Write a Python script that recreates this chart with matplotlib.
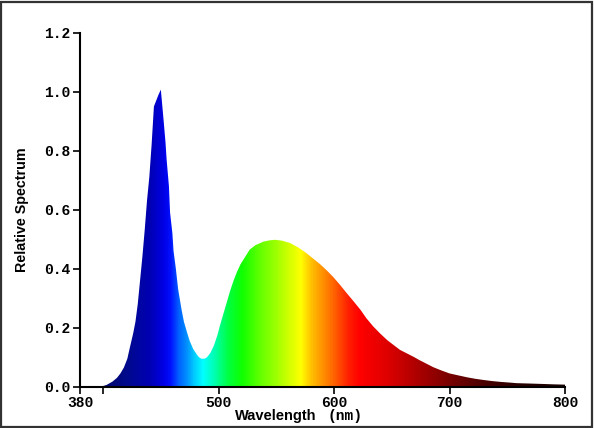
import numpy as np
import matplotlib
matplotlib.use("Agg")
import matplotlib.pyplot as plt
from matplotlib.colors import LinearSegmentedColormap, to_rgb
from matplotlib.patches import Rectangle

# spectrum (nm, relative value)
wavelength = [380, 398, 403, 408, 412, 415, 418, 421, 423, 426, 428, 430, 432, 434, 436,
              438, 440, 442, 444, 446, 448, 450, 452, 454, 455, 457, 458, 460, 461, 463,
              465, 468, 470, 473, 475, 478, 481, 483, 485, 488, 490, 493, 496, 499, 501,
              504, 507, 510, 513, 516, 519, 523, 527, 532, 539, 544, 549, 555, 562, 569,
              576, 582, 588, 594, 599, 605, 611, 617, 623, 628, 634, 640, 646, 652, 657,
              663, 669, 674, 680, 686, 693, 700, 708, 715, 722, 729, 737, 745, 752, 758,
              767, 775, 783, 790, 800]
spectrum = [0.0, 0.0, 0.006, 0.017, 0.030, 0.045, 0.065, 0.095, 0.13, 0.18, 0.22, 0.28,
            0.36, 0.44, 0.53, 0.63, 0.71, 0.82, 0.95, 0.97, 0.99, 1.007, 0.92, 0.83, 0.77,
            0.68, 0.59, 0.52, 0.46, 0.40, 0.33, 0.26, 0.22, 0.18, 0.155, 0.128, 0.11, 0.10,
            0.095, 0.095, 0.10, 0.115, 0.14, 0.175, 0.205, 0.245, 0.285, 0.325, 0.36, 0.39,
            0.415, 0.44, 0.465, 0.48, 0.492, 0.496, 0.498, 0.495, 0.487, 0.472, 0.453,
            0.434, 0.415, 0.393, 0.373, 0.346, 0.317, 0.289, 0.26, 0.232, 0.204, 0.18,
            0.158, 0.14, 0.125, 0.113, 0.101, 0.090, 0.078, 0.066, 0.055, 0.045, 0.038,
            0.032, 0.027, 0.023, 0.019, 0.016, 0.014, 0.012, 0.011, 0.010, 0.009, 0.008,
            0.007]

# colour of the fill at each wavelength
color_nm = [380, 410, 420, 440, 452, 458, 465, 472, 478, 486, 496, 508, 520, 535,
            550, 562, 571, 580, 590, 600, 612, 622, 645, 670, 700, 730, 760, 800]
color_hex = ['#000060', '#00087a', '#000a8c', '#0000b4', '#0000e6', '#0010ff', '#0060ff',
             '#0090ff', '#00c8ff', '#00ffff', '#00ffb0', '#00ff40', '#10ff00', '#60ff00',
             '#a0ff00', '#d8ff00', '#ffff00', '#ffc000', '#ff9000', '#ff6000', '#ff2000',
             '#ff0000', '#e00000', '#b00000', '#780000', '#4a0000', '#280000', '#180000']

x_ticks = [380, 400, 500, 600, 700, 800]
x_labels = ['380', '', '500', '600', '700', '800']
y_ticks = [0.0, 0.2, 0.4, 0.6, 0.8, 1.0, 1.2]

mono = ['Liberation Mono', 'DejaVu Sans Mono']
sans = ['Liberation Sans', 'DejaVu Sans']

fig = plt.figure(figsize=(5.94, 4.28), dpi=100)
ax = fig.add_axes([0.1347, 0.0965, 0.9512 - 0.1347, 0.9236 - 0.0965])

lo, hi = color_nm[0], color_nm[-1]
stops = [((n - lo) / (hi - lo), to_rgb(c)) for n, c in zip(color_nm, color_hex)]
cmap = LinearSegmentedColormap.from_list('spec', stops, N=512)

poly = ax.fill_between(wavelength, 0, spectrum, color='none', lw=0)
grad = np.linspace(0, 1, 800).reshape(1, -1)
img = ax.imshow(grad, cmap=cmap, aspect='auto', extent=[lo, hi, 0, 1.2],
                origin='lower', interpolation='bilinear')
path = poly.get_paths()[0]
img.set_clip_path(path, transform=ax.transData)

ax.set_xlim(380, 800)
ax.set_ylim(0, 1.2)
for s in ['top', 'right']:
    ax.spines[s].set_visible(False)
for s in ['left', 'bottom']:
    ax.spines[s].set_linewidth(1.5)

ax.set_xticks(x_ticks)
ax.set_xticklabels(x_labels)
ax.set_yticks(y_ticks)
ax.set_yticklabels([f'{v:.1f}' for v in y_ticks])
ax.tick_params(direction='out', length=5, width=1.2, pad=2)
for lab in ax.get_xticklabels() + ax.get_yticklabels():
    lab.set_family(mono)
    lab.set_fontweight('bold')
    lab.set_fontsize(10.5)

ax.set_ylabel('Relative Spectrum', family=sans, fontweight='bold', fontsize=10.3, labelpad=11)
fig.text(0.532, 0.018, 'Wavelength', family=sans, fontweight='bold', fontsize=10.5,
         ha='right', va='baseline')
fig.text(0.551, 0.018, '(nm)', family=mono, fontweight='bold', fontsize=10.5,
         ha='left', va='baseline')

fig.add_artist(Rectangle((0.002, 0.002), 0.995, 0.994, transform=fig.transFigure,
                         fill=False, ec='#333333', lw=1.6))

fig.savefig('out.png', dpi=100)
